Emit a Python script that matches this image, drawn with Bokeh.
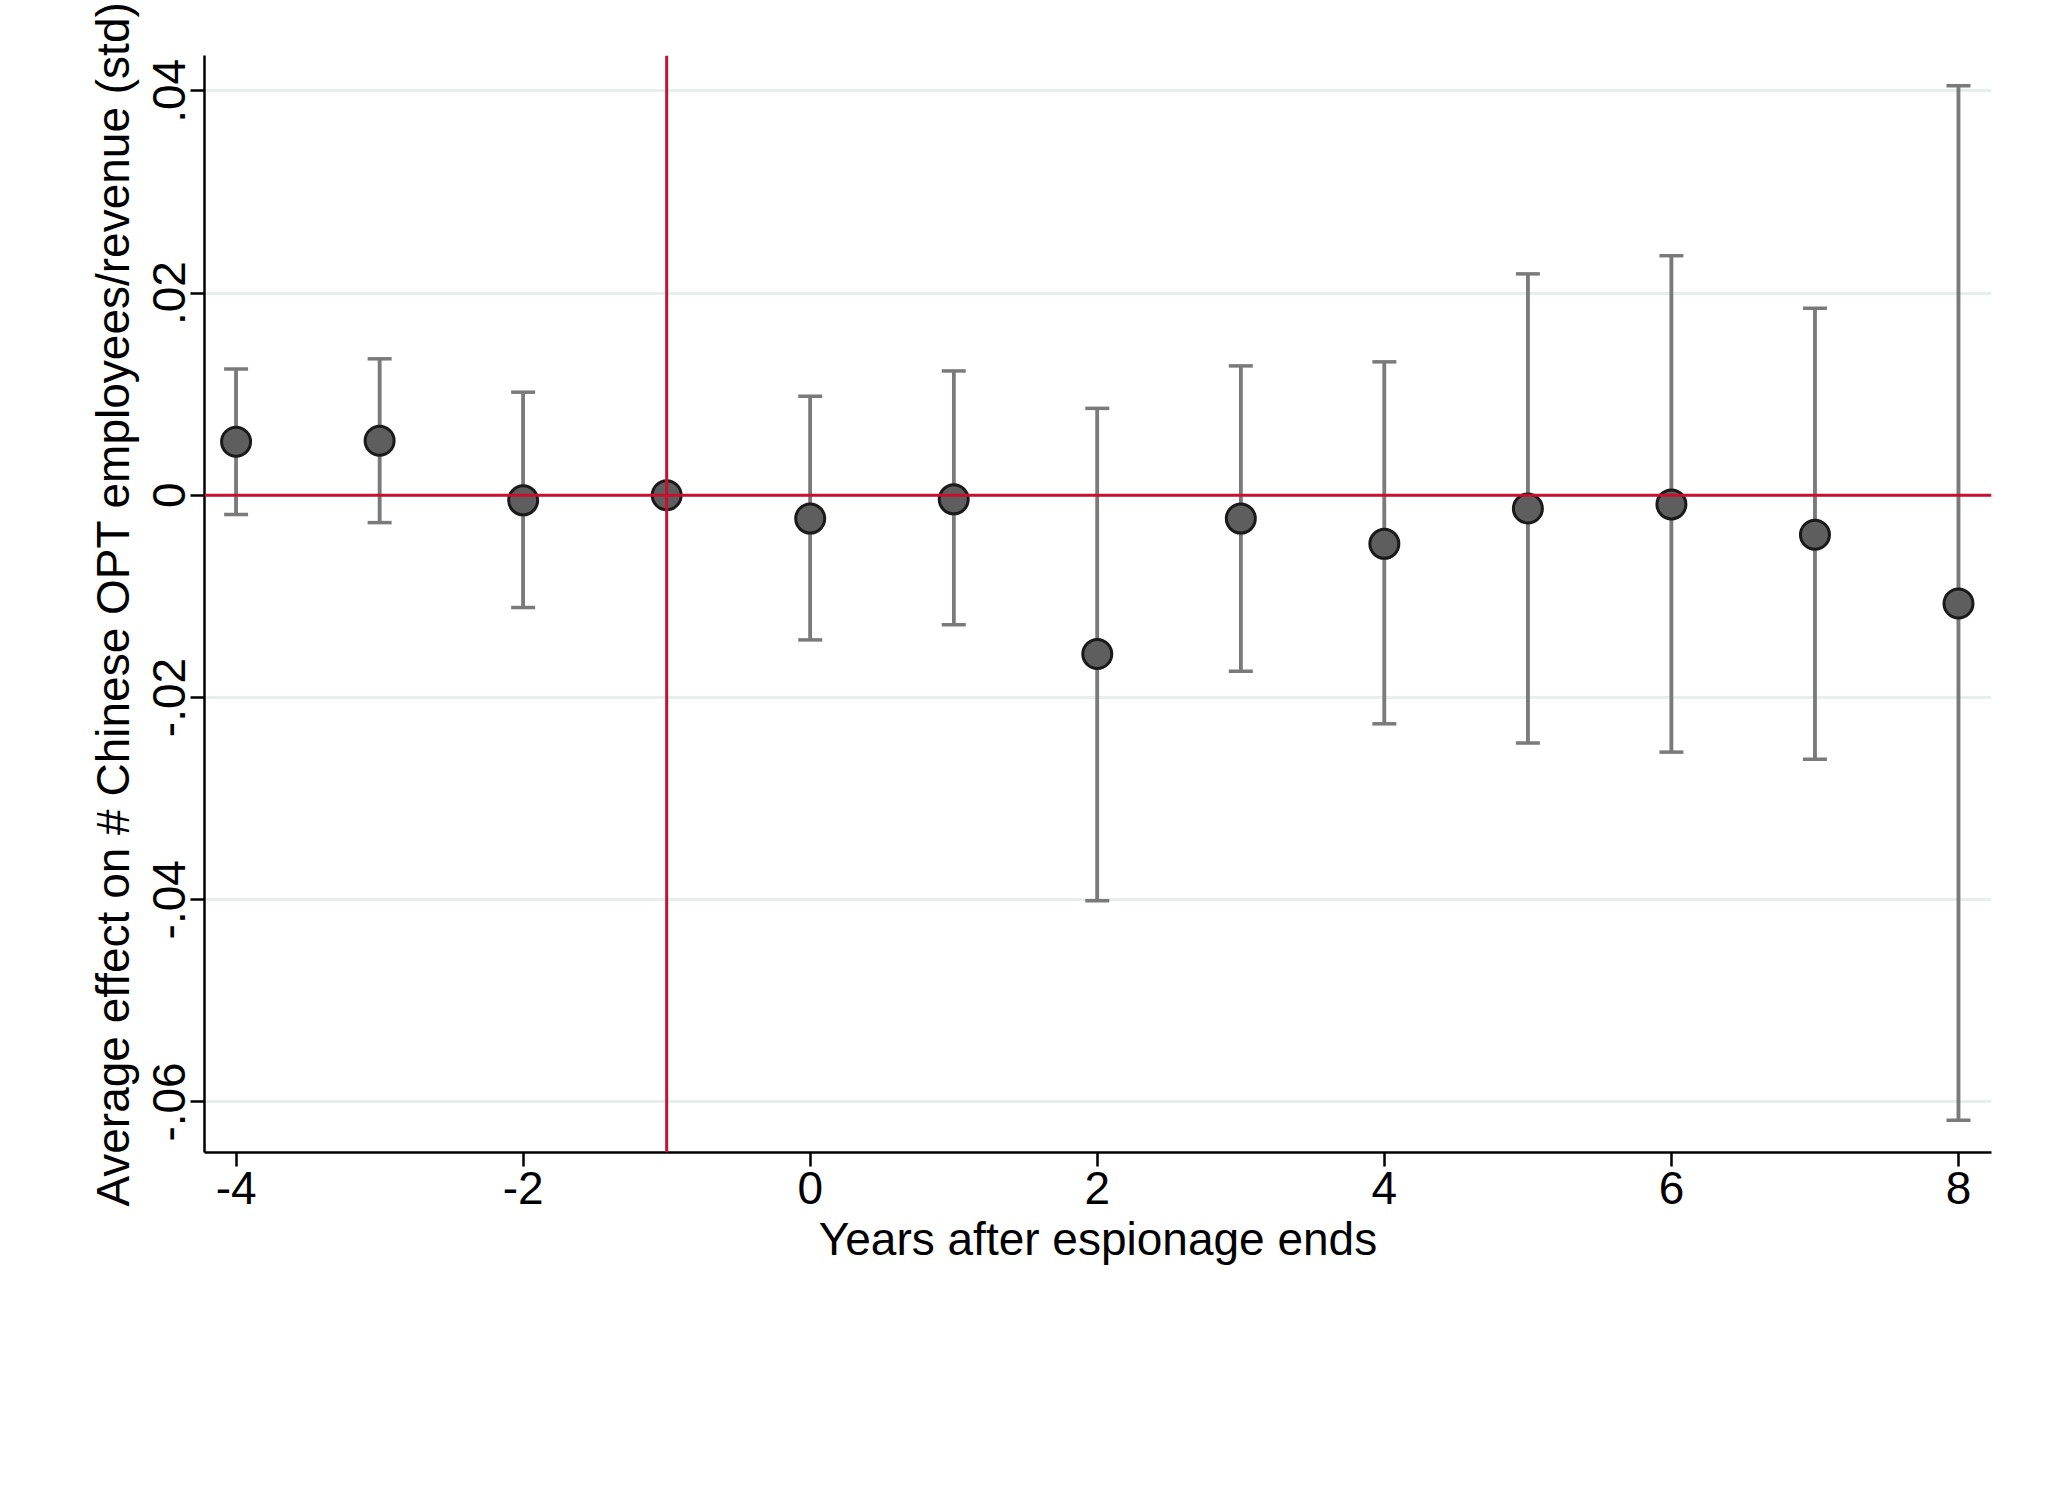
from bokeh.plotting import figure
from bokeh.models import (ColumnDataSource, Span, Whisker, TeeHead, Legend, LegendItem,
                          FixedTicker, CustomJSTickFormatter, Range1d)
from bokeh.embed import file_html
from bokeh.resources import INLINE

years = [-4, -3, -2, -1, 0, 1, 2, 3, 4, 5, 6, 7, 8]
coef = [0.0053, 0.0054, -0.0005, 0.0, -0.0023, -0.0004, -0.0157, -0.0023, -0.0048, -0.0013, -0.0009, -0.0039, -0.0107]
ci_lo = [-0.0019, -0.0027, -0.0111, None, -0.0143, -0.0128, -0.0401, -0.0174, -0.0226, -0.0245, -0.0254, -0.0261, -0.0618]
ci_hi = [0.0125, 0.0135, 0.0102, None, 0.0098, 0.0123, 0.0086, 0.0128, 0.0132, 0.0219, 0.0237, 0.0185, 0.0405]
x_ticks = [-4, -2, 0, 2, 4, 6, 8]
y_ticks = [-0.06, -0.04, -0.02, 0, 0.02, 0.04]

FONT = "Liberation Sans"
RED = "#c8102e"
GRAY = "#7a7a7a"

ci_x = [x for x, l in zip(years, ci_lo) if l is not None]
ci_l = [l for l in ci_lo if l is not None]
ci_h = [h for h in ci_hi if h is not None]
ci_src = ColumnDataSource(dict(x=ci_x, lo=ci_l, hi=ci_h))
pt_src = ColumnDataSource(dict(x=years, y=coef))

p = figure(frame_width=1787, frame_height=1097, output_backend="svg", toolbar_location=None,
           x_range=Range1d(-4.22, 8.23), y_range=Range1d(-0.065, 0.0435),
           min_border_left=204, min_border_right=40, min_border_top=55, min_border_bottom=10)
p.outline_line_color = None
p.background_fill_color = "white"

p.xgrid.grid_line_color = None
p.ygrid.grid_line_color = "#e6eeee"
p.ygrid.grid_line_width = 3

p.add_layout(Span(location=0, dimension="width", line_color=RED, line_width=3))
p.add_layout(Span(location=-1, dimension="height", line_color=RED, line_width=3))

seg = p.segment(x0="x", y0="lo", x1="x", y1="hi", source=ci_src, line_color=GRAY, line_width=3.5)
p.add_layout(Whisker(base="x", lower="lo", upper="hi", source=ci_src, line_color=GRAY, line_width=3.5,
                     lower_head=TeeHead(size=24, line_color=GRAY, line_width=3.5),
                     upper_head=TeeHead(size=24, line_color=GRAY, line_width=3.5)))
pts = p.scatter(x="x", y="y", source=pt_src, size=29, fill_color="#5e5e5e", line_color="#1a1a1a", line_width=3)

p.xaxis.ticker = FixedTicker(ticks=x_ticks)
p.xaxis.formatter = CustomJSTickFormatter(code="return String(tick).replace('\u2212','-');")
p.yaxis.ticker = FixedTicker(ticks=y_ticks)
p.yaxis.formatter = CustomJSTickFormatter(code="""
if (Math.abs(tick) < 1e-9) return '0';
let s = tick.toFixed(2);
return s.replace('0.', '.');
""")
p.yaxis.major_label_orientation = "vertical"
for ax in (p.xaxis, p.yaxis):
    ax.axis_line_color = "black"
    ax.axis_line_width = 2.5
    ax.major_tick_line_width = 2.5
    ax.major_tick_out = 14
    ax.major_tick_in = 0
    ax.minor_tick_line_color = None
    ax.major_label_text_font = FONT
    ax.major_label_text_font_size = "46px"
    ax.major_label_text_color = "black"
    ax.axis_label_text_font = FONT
    ax.axis_label_text_font_size = "46px"
    ax.axis_label_text_color = "black"
    ax.axis_label_text_font_style = "normal"
p.xaxis.axis_label = "Years after espionage ends"
p.yaxis.axis_label = "Average effect on # Chinese OPT employees/revenue (std)"
p.xaxis.axis_label_standoff = 6
p.yaxis.axis_label_standoff = 12

legend = Legend(items=[LegendItem(label="Coefficient", renderers=[pts]),
                       LegendItem(label="95% CI", renderers=[seg])],
                orientation="horizontal", location="center",
                label_text_font=FONT, label_text_font_size="48px", label_text_color="black",
                border_line_color="black", border_line_width=2.5, border_line_alpha=1,
                glyph_width=200, glyph_height=50, spacing=30, padding=15, margin=25)
p.add_layout(legend, "below")

open("out.html", "w").write(file_html(p, INLINE))
